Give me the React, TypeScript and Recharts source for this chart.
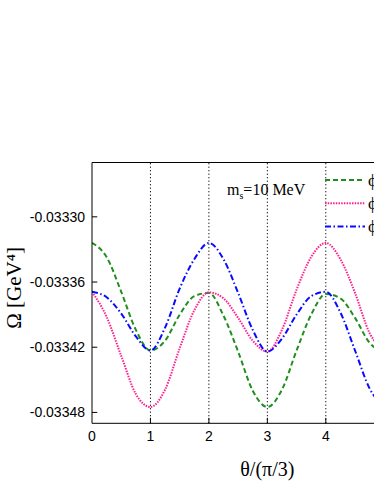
import React from 'react';
import { LineChart, Line, XAxis, YAxis, ReferenceLine, Label } from 'recharts';

// theta / (pi/3)
const theta = [0, 0.25, 0.5, 0.75, 1, 1.25, 1.5, 1.75, 2, 2.25, 2.5, 2.75, 3, 3.25, 3.5, 3.75, 4, 4.25, 4.5, 4.75, 5];

// Omega [GeV^4]
const omegaGreen = [
    -0.033324, -0.033337, -0.033369, -0.033404, -0.033423, -0.033414, -0.03339, -0.033373, -0.03337, -0.033391,
    -0.033424, -0.03346, -0.033475, -0.033459, -0.033423, -0.03339, -0.033371, -0.033375, -0.033393, -0.033416,
    -0.033424
];
const omegaPink = [
    -0.033369, -0.033392, -0.033428, -0.033463, -0.033475, -0.033459, -0.033421, -0.033386, -0.0333695, -0.033375,
    -0.033393, -0.033414, -0.033424, -0.033404, -0.033367, -0.033337, -0.033324, -0.033339, -0.03337, -0.033407,
    -0.033423
];
const omegaBlue = [
    -0.033369, -0.033374, -0.033389, -0.03341, -0.033423, -0.033402, -0.033366, -0.033339, -0.033324, -0.033339,
    -0.03337, -0.033404, -0.033424, -0.033412, -0.03339, -0.033373, -0.033369, -0.033388, -0.033423, -0.033458,
    -0.033475
];

const xTicks = [0, 1, 2, 3, 4];
const gridLines = [1, 2, 3, 4, 5];
const yTicks = [-0.0333, -0.03336, -0.03342, -0.03348];
const yDomain = [-0.03349, -0.03325];
const legendLabels = ['ϕ₁', 'ϕ₂', 'ϕ₃'];

const data = theta.map((t, i) => ({
    theta: t,
    green: omegaGreen[i],
    pink: omegaPink[i],
    blue: omegaBlue[i]
}));

const serif = '"Liberation Serif", "DejaVu Serif", serif';
const sans = '"Liberation Sans", Arial, sans-serif';

const series = [
    { key: 'green', color: '#1f8f1f', dash: '5 3', width: 2 },
    { key: 'pink', color: '#ff1f8e', dash: '1.5 1.2', width: 2 },
    { key: 'blue', color: '#0a0aff', dash: '6 2.5 1.5 2.5', width: 2 }
];

export default function App() {
    return (
        <div style={{ position: 'fixed', left: 0, top: 0, width: 374, height: 484, overflow: 'hidden', background: '#fff' }}>
            <LineChart
                width={480}
                height={484}
                data={data}
                margin={{ top: 162.5, right: 37.3, left: 0, bottom: 30.7 }}
            >
                <XAxis
                    dataKey="theta"
                    type="number"
                    domain={[0, 6]}
                    ticks={xTicks}
                    allowDataOverflow
                    height={30}
                    tickSize={0}
                    tickMargin={8}
                    tickLine={false}
                    axisLine={{ stroke: '#000' }}
                    tick={{ fill: '#000', fontSize: 14, fontFamily: sans }}
                >
                    <Label
                        content={({ viewBox }: any) => (
                            <text
                                x={viewBox.x + viewBox.width / 2}
                                y={viewBox.y + 53}
                                textAnchor="middle"
                                fontFamily={serif}
                                fontSize={20}
                                fill="#000"
                            >
                                θ/(π/3)
                            </text>
                        )}
                    />
                </XAxis>
                <YAxis
                    type="number"
                    domain={yDomain}
                    ticks={yTicks}
                    allowDataOverflow
                    width={92}
                    tickSize={0}
                    tickMargin={7}
                    tickLine={false}
                    axisLine={{ stroke: '#000' }}
                    tick={{ fill: '#000', fontSize: 14, fontFamily: sans }}
                    tickFormatter={(v: number) => v.toFixed(5)}
                >
                    <Label
                        content={({ viewBox }: any) => {
                            const cx = viewBox.x + 21.5;
                            const cy = viewBox.y + viewBox.height / 2 - 5;
                            return (
                                <text
                                    x={cx}
                                    y={cy}
                                    transform={`rotate(-90 ${cx} ${cy})`}
                                    textAnchor="middle"
                                    fontFamily={serif}
                                    fontSize={21}
                                    fill="#000"
                                >
                                    Ω [GeV⁴]
                                </text>
                            );
                        }}
                    />
                </YAxis>

                {/* frame top and right */}
                <ReferenceLine y={yDomain[1]} stroke="#000" strokeWidth={1} />
                <ReferenceLine x={6} stroke="#000" strokeWidth={1} />

                {/* dotted vertical guides */}
                {gridLines.map((g) => (
                    <ReferenceLine key={`g-${g}`} x={g} stroke="#000" strokeDasharray="1.2 2.3" strokeWidth={1} />
                ))}

                {/* inward tick marks */}
                {yTicks.map((v) => (
                    <ReferenceLine
                        key={`yt-${v}`}
                        segment={[{ x: 0, y: v }, { x: 0.09, y: v }]}
                        stroke="#000"
                    />
                ))}
                {gridLines.map((g) => (
                    <ReferenceLine
                        key={`xt-${g}`}
                        segment={[{ x: g, y: yDomain[0] }, { x: g, y: yDomain[0] + 0.000005 }]}
                        stroke="#000"
                    />
                ))}

                {series.map((s) => (
                    <Line
                        key={s.key}
                        dataKey={s.key}
                        type="monotone"
                        stroke={s.color}
                        strokeWidth={s.width}
                        strokeDasharray={s.dash}
                        dot={false}
                        isAnimationActive={false}
                    />
                ))}
            </LineChart>

            <svg
                width={374}
                height={484}
                style={{ position: 'absolute', left: 0, top: 0, pointerEvents: 'none' }}
            >
                <text x={227} y={195} fontFamily={serif} fontSize={16} fill="#000">
                    m
                    <tspan fontSize={10} dy={4}>s</tspan>
                    <tspan fontSize={16} dy={-4}>=10 MeV</tspan>
                </text>
                {series.map((s, i) => (
                    <g key={`leg-${s.key}`}>
                        <line
                            x1={325}
                            x2={365}
                            y1={180 + i * 23.2}
                            y2={180 + i * 23.2}
                            stroke={s.color}
                            strokeWidth={s.width}
                            strokeDasharray={s.dash}
                        />
                        <text
                            x={368}
                            y={180 + i * 23.2}
                            dominantBaseline="central"
                            fontFamily={serif}
                            fontSize={17}
                            fill="#000"
                        >
                            {legendLabels[i]}
                        </text>
                    </g>
                ))}
            </svg>
        </div>
    );
}
